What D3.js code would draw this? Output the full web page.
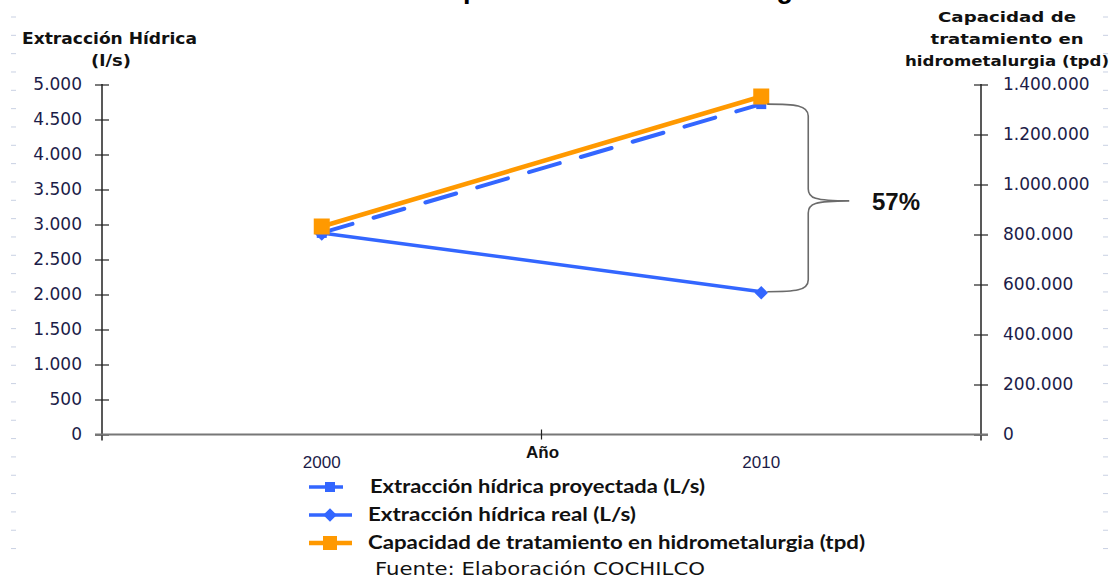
<!DOCTYPE html>
<html>
<head>
<meta charset="utf-8">
<script src="https://cdn.jsdelivr.net/npm/d3@7/dist/d3.min.js"></script>
<style>
  html, body { margin: 0; padding: 0; background: #fff; }
  svg { display: block; }
</style>
</head>
<body>
<svg id="chart" width="1109" height="579"></svg>
<script>
// ---- data ----
const years = ["2000", "2010"];
const extraccionProyectada = [2880, 4720];   // L/s
const extraccionReal = [2880, 2040];         // L/s
const capacidadHidro = [832000, 1352000];    // tpd
const leftTicks = [0, 500, 1000, 1500, 2000, 2500, 3000, 3500, 4000, 4500, 5000];
const rightTicks = [0, 200000, 400000, 600000, 800000, 1000000, 1200000, 1400000];
const seriesNames = [
  "Extracción hídrica proyectada (L/s)",
  "Extracción hídrica real (L/s)",
  "Capacidad de tratamiento en hidrometalurgia (tpd)"
];
const gapLabel = "57%";
const titleText = "Extracción hídrica vs capacidad de hidrometalurgia";
const leftTitle = ["Extracción Hídrica", "(l/s)"];
const rightTitle = ["Capacidad de", "tratamiento en", "hidrometalurgia (tpd)"];
const xTitle = "Año";
const sourceText = "Fuente: Elaboración COCHILCO";

// ---- setup ----
const svg = d3.select("#chart");
const plot = { left: 102, right: 981, top: 84.5, bottom: 434.5 };
const BLUE = "#3366ff", ORANGE = "#ff9900";
const LABEL = "#1c1c48";

const es = d3.formatLocale({ decimal: ",", thousands: ".", grouping: [3], currency: ["$", ""] });
const fmt = es.format(",d");

const x = d3.scalePoint().domain(years).range([plot.left, plot.right]).padding(0.5);
const yL = d3.scaleLinear().domain([0, 5000]).range([plot.bottom, plot.top]);
const yR = d3.scaleLinear().domain([0, 1400000]).range([plot.bottom, plot.top]);

// faint sheet-margin dashes on both edges
const marks = d3.range(17, 552, 18.33);
svg.append("g").selectAll("line").data(marks).join("line")
  .attr("x1", 11).attr("x2", 16).attr("y1", d => d).attr("y2", d => d)
  .attr("stroke", "#c9d1e3").attr("stroke-width", 1);
svg.append("g").selectAll("line").data(marks).join("line")
  .attr("x1", 1103).attr("x2", 1108).attr("y1", d => d).attr("y2", d => d)
  .attr("stroke", "#c9d1e3").attr("stroke-width", 1);

// title, running off the top edge of the sheet
const title = svg.append("text")
  .attr("y", -2)
  .attr("font-family", "Liberation Sans, Arial, sans-serif")
  .attr("font-weight", "bold").attr("font-size", 27)
  .attr("fill", "#000").text(titleText);
{
  const node = title.node();
  const off = node.getSubStringLength(0, titleText.indexOf("p"));
  title.attr("x", 463 - off);
}

// ---- axes ----
const gL = svg.append("g").attr("transform", `translate(${plot.left},0)`)
  .call(d3.axisLeft(yL).tickValues(leftTicks).tickFormat(fmt).tickSize(7).tickPadding(13));
const gR = svg.append("g").attr("transform", `translate(${plot.right},0)`)
  .call(d3.axisRight(yR).tickValues(rightTicks).tickFormat(fmt).tickSize(7).tickPadding(15));
[gL, gR].forEach(g => {
  g.select(".domain").remove();
  g.selectAll(".tick line").attr("x1", -7).attr("x2", 7).attr("stroke", "#222").attr("stroke-width", 1.2);
  g.selectAll(".tick text")
    .attr("font-family", "DejaVu Sans, Verdana, sans-serif")
    .attr("font-size", 17).attr("fill", LABEL);
});
[plot.left, plot.right].forEach(px => {
  svg.append("line").attr("x1", px).attr("x2", px)
    .attr("y1", plot.top - 0.5).attr("y2", plot.bottom + 6)
    .attr("stroke", "#222").attr("stroke-width", 1.5);
});

// horizontal category axis
svg.append("line").attr("x1", plot.left - 7).attr("x2", plot.right + 7)
  .attr("y1", plot.bottom).attr("y2", plot.bottom)
  .attr("stroke", "#777").attr("stroke-width", 2);
const midX = (plot.left + plot.right) / 2;
svg.append("line").attr("x1", midX).attr("x2", midX)
  .attr("y1", plot.bottom - 5).attr("y2", plot.bottom + 5)
  .attr("stroke", "#222").attr("stroke-width", 1.2);
svg.append("g").selectAll("text").data(years).join("text")
  .attr("x", d => x(d)).attr("y", 468)
  .attr("text-anchor", "middle")
  .attr("font-family", "Liberation Sans, Arial, sans-serif")
  .attr("font-size", 17).attr("fill", LABEL)
  .text(d => d);
svg.append("text").attr("x", midX + 1).attr("y", 458)
  .attr("text-anchor", "middle")
  .attr("font-family", "Liberation Sans, Arial, sans-serif")
  .attr("font-weight", "bold").attr("font-size", 17).attr("fill", "#111")
  .text(xTitle);

// axis titles
const titleFont = "DejaVu Sans, Verdana, sans-serif";
svg.append("text").attr("x", 109.5).attr("y", 44)
  .attr("text-anchor", "middle").attr("font-family", titleFont)
  .attr("font-weight", "bold").attr("font-size", 15).attr("fill", "#111")
  .attr("textLength", 175).attr("lengthAdjust", "spacingAndGlyphs")
  .text(leftTitle[0]);
svg.append("text").attr("x", 111).attr("y", 66)
  .attr("text-anchor", "middle").attr("font-family", titleFont)
  .attr("font-weight", "bold").attr("font-size", 15).attr("fill", "#111")
  .attr("textLength", 40).attr("lengthAdjust", "spacingAndGlyphs")
  .text(leftTitle[1]);
const rtWidths = [138, 153, 204];
rightTitle.forEach((t, i) => {
  svg.append("text").attr("x", 1007).attr("y", 22 + i * 22)
    .attr("text-anchor", "middle").attr("font-family", titleFont)
    .attr("font-weight", "bold").attr("font-size", 14).attr("fill", "#111")
    .attr("textLength", rtWidths[i]).attr("lengthAdjust", "spacingAndGlyphs")
    .text(t);
});

// ---- series ----
const lineL = d3.line().x((d, i) => x(years[i])).y(d => yL(d));
const lineR = d3.line().x((d, i) => x(years[i])).y(d => yR(d));
const diamond = d3.symbol().type(d3.symbolSquare).size(92);

// projected extraction (dashed)
svg.append("path").datum(extraccionProyectada)
  .attr("d", lineL).attr("fill", "none")
  .attr("stroke", BLUE).attr("stroke-width", 4)
  .attr("stroke-dasharray", "32,22").attr("stroke-linecap", "round");
svg.append("g").selectAll("rect").data(extraccionProyectada).join("rect")
  .attr("x", (d, i) => x(years[i]) - 5).attr("y", d => yL(d) - 5)
  .attr("width", 10).attr("height", 10).attr("fill", BLUE);

// real extraction
svg.append("path").datum(extraccionReal)
  .attr("d", lineL).attr("fill", "none")
  .attr("stroke", BLUE).attr("stroke-width", 3.5);
svg.append("g").selectAll("path").data(extraccionReal).join("path")
  .attr("transform", (d, i) => `translate(${x(years[i])},${yL(d) + 1}) rotate(45)`)
  .attr("d", diamond).attr("fill", BLUE);

// hydrometallurgy capacity (right axis)
svg.append("path").datum(capacidadHidro)
  .attr("d", lineR).attr("fill", "none")
  .attr("stroke", ORANGE).attr("stroke-width", 4.5);
svg.append("g").selectAll("rect").data(capacidadHidro).join("rect")
  .attr("x", (d, i) => x(years[i]) - 8).attr("y", d => yR(d) - 8)
  .attr("width", 16).attr("height", 16).attr("fill", ORANGE);

// ---- gap brace between projected and real in the last year ----
{
  const xe = x(years[1]) + 6;
  const y1 = yL(extraccionProyectada[1]);
  const y2 = yL(extraccionReal[1]);
  const bx = xe + 41;
  const ym = (y1 + y2) / 2 + 3;
  const tip = bx + 41;
  const p = `M${xe},${y1} C${xe + 28},${y1} ${bx},${y1 + 1} ${bx},${y1 + 12}` +
    ` L${bx},${ym - 12} C${bx},${ym - 3} ${bx + 6},${ym} ${tip},${ym}` +
    ` C${bx + 6},${ym} ${bx},${ym + 3} ${bx},${ym + 12}` +
    ` L${bx},${y2 - 12} C${bx},${y2 - 1} ${xe + 28},${y2} ${xe},${y2}`;
  svg.append("path").attr("d", p).attr("fill", "none")
    .attr("stroke", "#6b6b6b").attr("stroke-width", 1.6);
  svg.append("text").attr("x", 872).attr("y", ym + 9)
    .attr("font-family", "Liberation Sans, Arial, sans-serif")
    .attr("font-weight", "bold").attr("font-size", 24).attr("fill", "#111")
    .text(gapLabel);
}

// ---- legend ----
const legY = [487, 515, 543];
const legTextX = [370, 368, 368];
const legWidths = [335, 268, 497];
const legColors = [BLUE, BLUE, ORANGE];
const leg = svg.append("g");
seriesNames.forEach((name, i) => {
  const yy = legY[i];
  const x2 = i === 0 ? 343 : 352;
  leg.append("line").attr("x1", 309).attr("x2", x2).attr("y1", yy).attr("y2", yy)
    .attr("stroke", legColors[i]).attr("stroke-width", i === 2 ? 4.5 : 3.5);
  if (i === 0) {
    leg.append("rect").attr("x", 325).attr("y", yy - 5).attr("width", 10).attr("height", 10).attr("fill", BLUE);
  } else if (i === 1) {
    leg.append("path").attr("transform", `translate(330,${yy}) rotate(45)`).attr("d", diamond).attr("fill", BLUE);
  } else {
    leg.append("rect").attr("x", 323).attr("y", yy - 7).attr("width", 14).attr("height", 14).attr("fill", ORANGE);
  }
  leg.append("text").attr("x", legTextX[i]).attr("y", yy + 6)
    .attr("font-family", "Lato, 'Open Sans', sans-serif")
    .attr("font-weight", "bold").attr("font-size", 18).attr("fill", "#111")
    .attr("textLength", legWidths[i]).attr("lengthAdjust", "spacingAndGlyphs")
    .text(name);
});

// source note
svg.append("text").attr("x", 375).attr("y", 575)
  .attr("font-family", "DejaVu Sans, Verdana, sans-serif")
  .attr("font-size", 17).attr("fill", "#111")
  .attr("textLength", 330).attr("lengthAdjust", "spacingAndGlyphs")
  .text(sourceText);
</script>
</body>
</html>
